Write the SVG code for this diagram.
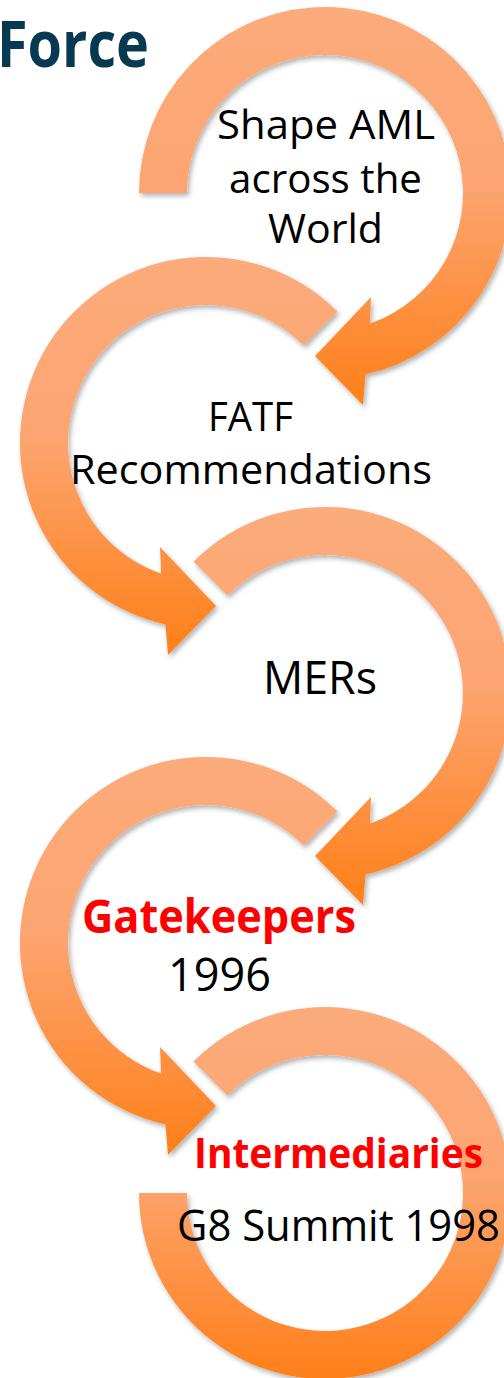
<svg xmlns="http://www.w3.org/2000/svg" width="504" height="1378" viewBox="0 0 504 1378">
  <defs>
    <linearGradient id="ring" x1="0" y1="0" x2="0" y2="1">
      <stop offset="0" stop-color="#FCAB7B"/>
      <stop offset="0.45" stop-color="#FCA571"/>
      <stop offset="1" stop-color="#FF7F18"/>
    </linearGradient>
    <filter id="shadow" x="-10%" y="-10%" width="125%" height="125%">
      <feDropShadow dx="2" dy="3" stdDeviation="2.5" flood-color="#000" flood-opacity="0.3"/>
    </filter>
  </defs>
  <style>
    .arrow { fill: url(#ring); filter: url(#shadow); }
    .lbl { font-family: "Open Sans", "Liberation Sans", sans-serif; fill: #000; }
    .red { font-family: "Open Sans", "Liberation Sans", sans-serif; font-weight: bold; fill: #FF0000; }
    .title { font-family: "Open Sans", "Liberation Sans", sans-serif; font-weight: bold; fill: #073A50; }
  </style>
  <rect width="504" height="1378" fill="#FFFFFF"/>
  <text class="title" x="-3" y="67" font-size="64" textLength="152" lengthAdjust="spacingAndGlyphs">Force</text>

  <g id="connectors"></g>

  <g id="node-shape-aml">
    <path class="arrow" d="M139,193 A186,186 0 1 1 365.6,374.5 L363,405 L315,356 L371,297 L369.9,323.5 A138,138 0 1 0 187,193 Z"/>
    <text class="lbl" x="217" y="139" font-size="41" textLength="218" lengthAdjust="spacingAndGlyphs">Shape AML</text>
    <text class="lbl" x="229" y="193" font-size="41" textLength="193" lengthAdjust="spacingAndGlyphs">across the</text>
    <text class="lbl" x="268" y="243" font-size="41" textLength="115" lengthAdjust="spacingAndGlyphs">World</text>
  </g>

  <g id="node-fatf">
    <path class="arrow" d="M337.5,311.5 A186,186 0 1 0 165.4,624.5 L168,655 L216,606 L160,547 L161.1,573.5 A138,138 0 1 1 303.6,345.4 Z"/>
    <text class="lbl" x="208" y="431" font-size="41" textLength="85" lengthAdjust="spacingAndGlyphs">FATF</text>
    <text class="lbl" x="70" y="484" font-size="41" textLength="362" lengthAdjust="spacingAndGlyphs">Recommendations</text>
  </g>

  <g id="node-mers">
    <path class="arrow" d="M193.5,561.5 A186,186 0 1 1 365.6,874.5 L363,905 L315,856 L371,797 L369.9,823.5 A138,138 0 1 0 227.4,595.4 Z"/>
    <text class="lbl" x="263" y="694" font-size="45" textLength="114" lengthAdjust="spacingAndGlyphs">MERs</text>
  </g>

  <g id="node-gatekeepers">
    <path class="arrow" d="M337.5,811.5 A186,186 0 1 0 165.4,1124.5 L168,1155 L216,1106 L160,1047 L161.1,1073.5 A138,138 0 1 1 303.6,845.4 Z"/>
    <text class="red" x="82" y="933" font-size="46" textLength="274" lengthAdjust="spacingAndGlyphs">Gatekeepers</text>
    <text class="lbl" x="168" y="991" font-size="45" textLength="103" lengthAdjust="spacingAndGlyphs">1996</text>
  </g>

  <g id="node-intermediaries">
    <path class="arrow" d="M193.5,1061.5 A186,186 0 1 1 139,1193 L187,1193 A138,138 0 1 0 227.4,1095.4 Z"/>
    <text class="red" x="194" y="1168" font-size="41" textLength="289" lengthAdjust="spacingAndGlyphs">Intermediaries</text>
    <text class="lbl" x="177" y="1241" font-size="43" textLength="323" lengthAdjust="spacingAndGlyphs">G8 Summit 1998</text>
  </g>
</svg>
